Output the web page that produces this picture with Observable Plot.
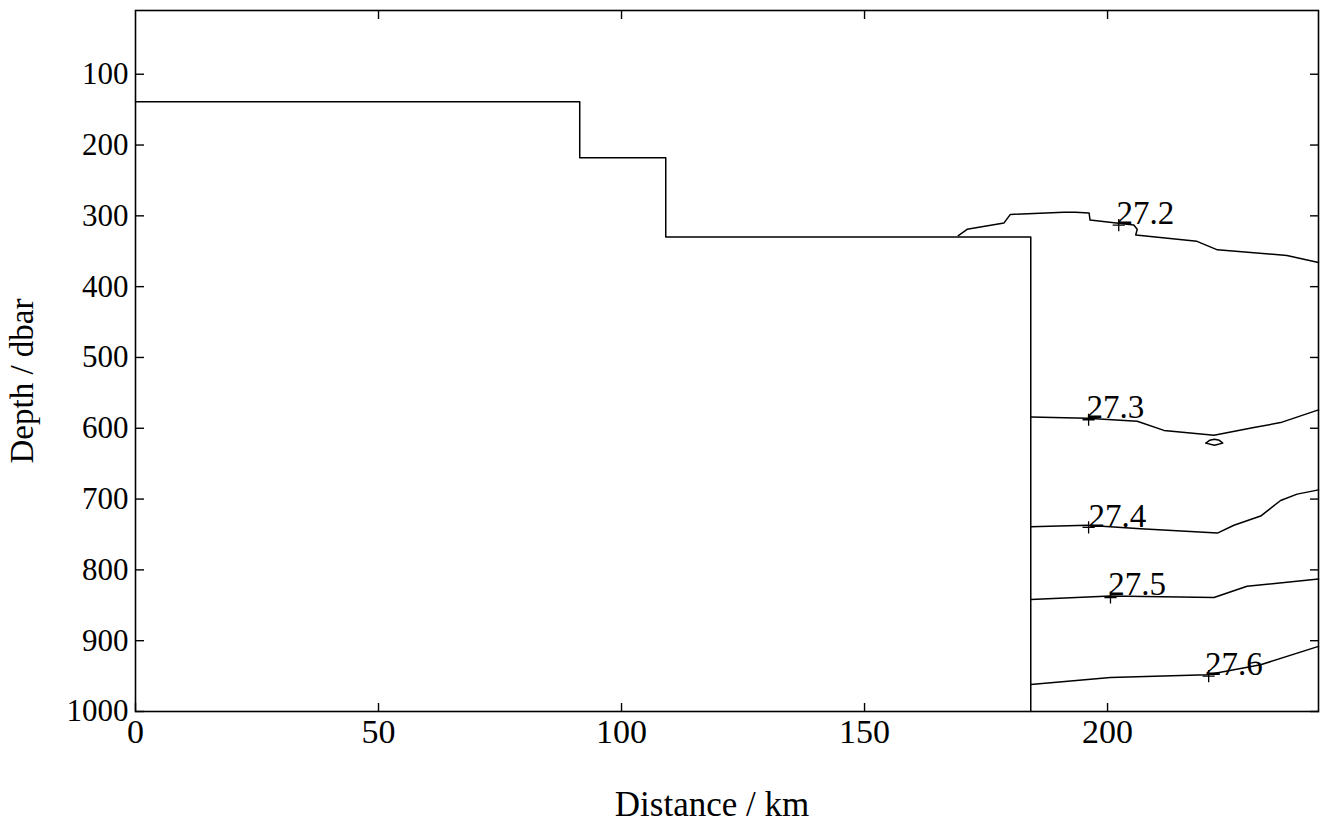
<!DOCTYPE html>
<html><head><meta charset="utf-8">
<script src="https://cdn.jsdelivr.net/npm/d3@7"></script>
<script src="https://cdn.jsdelivr.net/npm/@observablehq/plot@0.6"></script>
<style>body{margin:0;background:#fff;}</style>
</head><body><div id="chart"></div>
<script>
// Axis ticks
const xTicks = [0, 50, 100, 150, 200];
const yTicks = [100, 200, 300, 400, 500, 600, 700, 800, 900, 1000];

// Boundary of the region without data (distance km, depth dbar)
const boundaryX = [0, 91.4, 91.4, 109.1, 109.1, 184.2, 184.2];
const boundaryD = [139, 139, 218, 218, 330, 330, 1000];

// Density contours
const c272X = [169.3, 171.1, 178.7, 180.0, 191.0, 193.4, 196.2, 196.4, 205.4, 206.1, 205.8, 218.4, 222.6, 236.9, 243.4];
const c272D = [328, 319, 310, 298, 295, 295, 296, 306, 313, 319, 327, 336, 348, 356, 366];
const c273X = [184.2, 195.8, 206.1, 211.6, 221.9, 230.1, 235.6, 243.4];
const c273D = [584, 586, 590, 603, 610, 599, 592, 574];
const c273loopX = [220.2, 221.0, 222.0, 223.0, 223.7, 222.0, 220.2];
const c273loopD = [621, 617, 615.5, 617, 621, 624, 621];
const c274X = [184.2, 195.8, 206.8, 222.6, 226.0, 231.5, 235.6, 239.0, 243.4];
const c274D = [739, 737, 742, 748, 737, 724, 702, 693, 687];
const c275X = [184.2, 200.6, 221.9, 228.7, 243.4];
const c275D = [842, 837, 839, 823, 813];
const c276X = [184.2, 200.6, 220.5, 231.5, 243.4];
const c276D = [962, 952, 948, 934, 908];

// Contour labels
const labelText = ["27.2", "27.3", "27.4", "27.5", "27.6"];
const labelX = [207.8, 201.6, 202.0, 206.1, 226.0];
const labelD = [297, 570, 724, 820, 933];
const markX = [202.3, 196.1, 196.1, 200.6, 220.8];
const markD = [313, 588, 740, 839, 950];

const toPts = (xs, ds) => xs.map((x, i) => ({x, d: ds[i]}));
const lines = [
  toPts(boundaryX, boundaryD),
  toPts(c272X, c272D),
  toPts(c273X, c273D),
  toPts(c273loopX, c273loopD),
  toPts(c274X, c274D),
  toPts(c275X, c275D),
  toPts(c276X, c276D)
];
const labels = labelText.map((t, i) => ({t, x: labelX[i], d: labelD[i]}));
const marks = markX.map((x, i) => ({x, d: markD[i]}));

const font = "'Liberation Serif', 'Times New Roman', serif";

const chart = Plot.plot({
  width: 1323,
  height: 822,
  marginLeft: 135,
  marginRight: 5,
  marginTop: 10,
  marginBottom: 111,
  style: {fontFamily: font, fontSize: "32px", color: "black", background: "white"},
  x: {domain: [0, 243.4]},
  y: {domain: [10, 1000], reverse: true},
  marks: [
    Plot.frame({stroke: "black", strokeWidth: 1.6}),
    Plot.axisX({anchor: "bottom", ticks: xTicks, tickSize: -8, tickPadding: 15, tickFormat: d => String(d), label: null, strokeWidth: 1.4, fontSize: 34}),
    Plot.axisX({anchor: "top", ticks: xTicks.slice(1), tickSize: -8, tickFormat: () => "", label: null, strokeWidth: 1.4}),
    Plot.axisY({anchor: "left", ticks: yTicks, tickSize: -9, tickPadding: 16, tickFormat: d => String(d), label: null, strokeWidth: 1.4, fontSize: 31}),
    Plot.axisY({anchor: "right", ticks: yTicks, tickSize: -9, tickFormat: () => "", label: null, strokeWidth: 1.4}),
    ...lines.map(pts => Plot.line(pts, {x: "x", y: "d", stroke: "black", strokeWidth: 1.5})),
    Plot.dot(marks, {x: "x", y: "d", symbol: "plus", r: 4, stroke: "black", strokeWidth: 1.3}),
    Plot.text(labels, {x: "x", y: "d", text: "t", fontSize: 33, fill: "black"}),
    Plot.text(["Distance / km"], {frameAnchor: "bottom", lineAnchor: "bottom", textAnchor: "middle", dx: -15, dy: 104, fontSize: 35, fill: "black"}),
    Plot.text(["Depth / dbar"], {frameAnchor: "left", textAnchor: "middle", lineAnchor: "middle", rotate: -90, dx: -113, dy: 20, fontSize: 33, fill: "black"})
  ]
});
document.getElementById("chart").append(chart);
</script>
</body></html>
